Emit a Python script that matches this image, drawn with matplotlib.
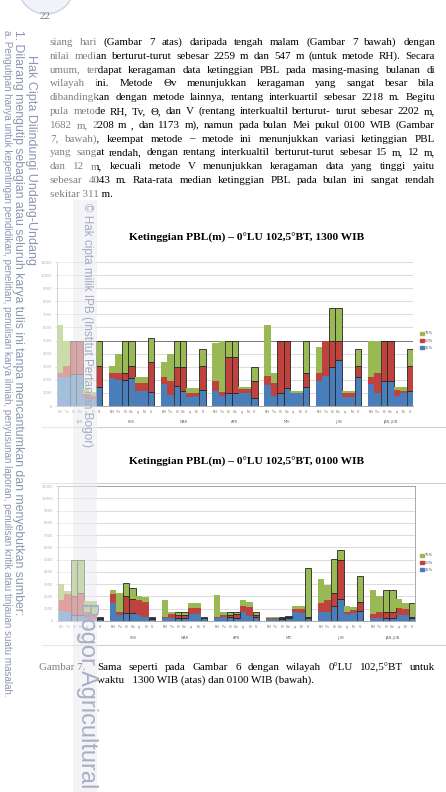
import matplotlib
matplotlib.use("Agg")
import matplotlib.pyplot as plt
from matplotlib.patches import Rectangle, Ellipse, Patch
from matplotlib.lines import Line2D

W, H = 446, 792

# ---- data ----
methods = ["RH", "Tv", "Θ", "Θv", "q", "N", "V"]
months = ["JAN", "FEB", "MAR", "APR", "MEI", "JUN", "JAN-JUN"]
pct_labels = ["75%", "50%", "25%"]
y_ticks = list(range(0, 11001, 1000))

# 1300 WIB : persentil 25 / 50 / 75 (7 bulan x 7 metode)
p25_13 = [2240, 2240, 2440, 2440, 600, 500, 1470,
          2160, 1980, 1980, 2160, 1170, 1170, 1090,
          1680, 840, 1530, 1170, 710, 780, 1220,
          1170, 800, 1020, 970, 970, 970, 590,
          1600, 780, 970, 1350, 970, 980, 1470,
          1930, 2290, 3000, 3510, 710, 720, 2240,
          1680, 970, 1930, 1930, 780, 970, 1170]
p50_13 = [2500, 3050, 5000, 5000, 900, 800, 3050,
          2500, 2500, 2500, 3050, 1730, 1730, 3380,
          2200, 1930, 3000, 3000, 970, 970, 3050,
          1930, 1100, 3720, 3720, 1270, 1270, 1930,
          2290, 1730, 5000, 5000, 980, 990, 2500,
          2500, 5000, 5000, 5000, 970, 970, 3050,
          2240, 2500, 5000, 5000, 1220, 1170, 3050]
p75_13 = [6160, 5000, 5000, 5000, 1300, 1100, 5000,
          3050, 3970, 5000, 5000, 2240, 2200, 5170,
          3380, 4000, 5000, 5000, 1350, 1350, 4350,
          4780, 5000, 5000, 5000, 1420, 1420, 2950,
          6160, 2500, 5000, 5000, 1170, 1170, 5000,
          4500, 5000, 7460, 7460, 1140, 1140, 4350,
          5000, 5000, 5000, 5000, 1470, 1470, 4350]

# 0100 WIB
p25_01 = [800, 700, 500, 500, 250, 200, 200,
          1440, 450, 680, 680, 490, 300, 200,
          250, 280, 280, 280, 600, 600, 250,
          280, 300, 300, 280, 760, 410, 350,
          200, 200, 200, 250, 730, 620, 250,
          710, 760, 1250, 1770, 570, 690, 820,
          270, 270, 270, 270, 450, 450, 250]
p50_01 = [1750, 2200, 2000, 2250, 750, 570, 250,
          2200, 760, 2040, 1770, 1710, 1570, 250,
          300, 570, 520, 520, 1030, 1030, 280,
          320, 520, 520, 570, 1220, 1170, 450,
          250, 250, 250, 300, 970, 970, 300,
          1490, 1710, 2250, 5000, 760, 900, 1550,
          570, 760, 760, 760, 1030, 950, 350]
p75_01 = [3050, 2470, 5000, 5000, 1650, 1600, 300,
          2530, 2250, 3120, 2660, 2040, 1930, 300,
          1700, 760, 700, 700, 1490, 1490, 320,
          2120, 760, 760, 760, 1710, 1550, 760,
          300, 300, 300, 400, 1250, 1250, 4350,
          3400, 2930, 5030, 5790, 1220, 1120, 3690,
          2530, 2040, 2530, 2530, 1770, 1490, 1490]

paragraph = [
    "siang hari (Gambar 7 atas) daripada tengah malam (Gambar 7 bawah) dengan",
    "nilai median berturut-turut sebesar 2259 m dan 547 m  (untuk metode RH). Secara",
    "umum, terdapat keragaman data ketinggian PBL pada masing-masing bulanan di",
    "wilayah ini. Metode Θv menunjukkan keragaman yang sangat besar bila",
    "dibandingkan dengan metode lainnya, rentang interkuartil sebesar 2218 m. Begitu",
    "pula metode RH, Tv, Θ, dan V (rentang interkualtil berturut- turut sebesar 2202 m,",
    "1682 m, 2208 m , dan 1173 m), namun pada bulan Mei pukul 0100 WIB (Gambar",
    "7, bawah), keempat metode – metode  ini menunjukkan variasi ketinggian PBL",
    "yang sangat rendah, dengan rentang interkualtil berturut-turut sebesar 15 m, 12 m,",
    "dan 12 m, kecuali metode V menunjukkan keragaman data yang tinggi yaitu",
    "sebesar 4043 m. Rata-rata median ketinggian PBL pada bulan ini sangat rendah",
    "sekitar 311 m.",
]
title_13 = "Ketinggian PBL(m) – 0°LU 102,5°BT, 1300 WIB"
title_01 = "Ketinggian PBL(m) – 0°LU 102,5°BT, 0100 WIB"
caption = ["Sama seperti pada Gambar 6 dengan wilayah 0°LU 102,5°BT untuk",
           "waktu   1300 WIB (atas) dan 0100 WIB (bawah)."]

BLUE, RED, GREEN = "#4a7ebb", "#c0423d", "#98b954"
SERIF = "Liberation Serif"
SANS = "Liberation Sans"
MARGIN = "#8c96b2"

fig = plt.figure(figsize=(W / 100, H / 100), dpi=100)
r = fig.canvas.get_renderer()


def fx(x):
    return x / W


def fy(y):
    return 1 - y / H


def justify(line, y, x0, x1, size, **kw):
    words = line.split()
    arts = [fig.text(0, 0, w, fontsize=size, family=SERIF, va="baseline", **kw) for w in words]
    widths = [a.get_window_extent(r).width for a in arts]
    gap = (x1 - x0 - sum(widths)) / max(len(words) - 1, 1)
    x = x0
    for a, w in zip(arts, widths):
        a.set_position((fx(x), fy(y)))
        x += w + gap


def vtext(s, x, y0, y1, color, **kw):
    t = fig.text(fx(x), fy(y0), s, rotation=270, ha="center", va="top",
                 fontsize=10, color=color, zorder=7, **kw)
    h = t.get_window_extent(r).height
    t.set_fontsize(10 * (y1 - y0) / h)
    return t


def chart(left, right, top, bottom, p25, p50, p75, framed, group_y, legend_y, ref_line):
    ax = fig.add_axes([fx(left), fy(bottom), (right - left) / W, (bottom - top) / H])
    xs = [g * 8 + i for g in range(len(months)) for i in range(len(methods))]
    mid = [b - a for a, b in zip(p25, p50)]
    hi = [c - b for b, c in zip(p50, p75)]
    edge = ["#262626" if (k % 7) in (2, 3, 6) else "none" for k in range(len(xs))]
    lw = [0.6 if e != "none" else 0 for e in edge]
    ax.bar(xs, p25, width=1.0, color=BLUE, edgecolor=edge, linewidth=lw, zorder=2)
    ax.bar(xs, mid, bottom=p25, width=1.0, color=RED, edgecolor=edge, linewidth=lw, zorder=2)
    ax.bar(xs, hi, bottom=p50, width=1.0, color=GREEN, edgecolor=edge, linewidth=lw, zorder=2)
    if ref_line:
        ax.axhline(5000, color="#7a7a7a", lw=0.7, zorder=1.5)
    ax.set_xlim(-0.5, xs[-1] + 0.5)
    ax.set_ylim(0, 11000)
    ax.set_yticks(y_ticks)
    ax.set_yticklabels([str(v) for v in y_ticks])
    ax.yaxis.grid(True, color="#d6d6d6", lw=0.6)
    ax.set_axisbelow(True)
    ax.set_xticks(xs)
    ax.set_xticklabels(methods * len(months))
    ax.tick_params(axis="y", labelsize=2.6, labelcolor="#666666", length=1.5, width=0.4,
                   color="#999999", pad=2)
    ax.tick_params(axis="x", labelsize=2.4, labelcolor="#666666", length=0, pad=3)
    for side in ["left", "bottom", "top", "right"]:
        ax.spines[side].set_color("#9a9a9a")
        ax.spines[side].set_linewidth(0.6)
    if not framed:
        ax.spines["top"].set_visible(False)
        ax.spines["right"].set_visible(False)
    gy = (bottom - group_y) / (bottom - top)
    for g, m in enumerate(months):
        ax.text(g * 8 + 3, gy, m, transform=ax.get_xaxis_transform(), ha="center",
                va="center", fontsize=2.6, color="#666666")
    handles = [Patch(color=GREEN), Patch(color=RED), Patch(color=BLUE)]
    ax.legend(handles, pct_labels, loc="upper left", bbox_to_anchor=(fx(419), fy(legend_y)),
              bbox_transform=fig.transFigure, fontsize=2.6, handlelength=0.9,
              handleheight=0.9, handletextpad=0.4, labelspacing=0.9, borderaxespad=0,
              frameon=False, labelcolor="#555555")
    return ax


# ---- page text ----
fig.add_artist(Ellipse((fx(46), fy(-14)), 56 / W, 56 / H, transform=fig.transFigure,
                       facecolor="#e3e8f2", edgecolor="#9aa5c0", lw=1.0, zorder=1))
fig.text(fx(40), fy(19), "22", fontsize=8, family=SERIF, va="baseline", zorder=3)

body_size = 7.9
probe = [fig.text(0, 0, ln, fontsize=body_size, family=SERIF) for ln in paragraph[:-1]]
widest = max(t.get_window_extent(r).width for t in probe)
for t in probe:
    t.remove()
body_size = min(body_size, body_size * 380 / widest)

for i, ln in enumerate(paragraph):
    yb = 45 + 13.8 * i
    if i < len(paragraph) - 1:
        justify(ln, yb, 50, 435, body_size)
    else:
        fig.text(fx(50), fy(yb), ln, fontsize=body_size, family=SERIF, va="baseline")

fig.text(fx(247), fy(238), title_13, fontsize=8.2, family=SERIF, weight="bold",
         ha="center", va="center")
fig.text(fx(247), fy(462), title_01, fontsize=8.2, family=SERIF, weight="bold",
         ha="center", va="center")

# ---- charts ----
chart(57, 413, 262, 406, p25_13, p50_13, p75_13, False, 422, 330, True)
chart(58, 415, 486, 621, p25_01, p50_01, p75_01, True, 638, 552, False)

for yl in (427, 483, 645):
    fig.add_artist(Line2D([fx(42), fx(446)], [fy(yl), fy(yl)], color="#cfcfcf", lw=0.8,
                          transform=fig.transFigure, zorder=1))

# ---- caption ----
fig.text(fx(39), fy(670), "Gambar 7.", fontsize=body_size, family=SERIF, va="baseline")
justify(caption[0], 670, 97, 435, body_size)
fig.text(fx(97), fy(683), caption[1], fontsize=body_size, family=SERIF, va="baseline")

# ---- watermark ----
fig.add_artist(Rectangle((0, 0), fx(97), 1, transform=fig.transFigure,
                         facecolor="white", alpha=0.5, lw=0, zorder=5))
fig.add_artist(Rectangle((fx(73), 0), fx(24), fy(200), transform=fig.transFigure,
                         facecolor="#c4c6d0", alpha=0.18, lw=0, zorder=5.5))
vtext("a. Pengutipan hanya untuk kepentingan pendidikan, penelitian, penulisan karya ilmiah, "
      "penyusunan laporan, penulisan kritik atau tinjauan suatu masalah.",
      7, 30, 702, MARGIN, family=SANS)
vtext("1. Dilarang mengutip sebagian atau seluruh karya tulis ini tanpa mencantumkan dan "
      "menyebutkan sumber:", 18, 30, 614, MARGIN, family=SANS)
vtext("Hak Cipta Dilindungi Undang-Undang", 31, 55, 265, MARGIN, family=SANS)
vtext("© Hak cipta milik IPB (Institut Pertanian Bogor)", 87, 203, 448, "#a3abc3", family=SANS)
vtext("Bogor Agricultural University", 87, 602, 900, "#a7aec6", family=SANS)

fig.savefig("out.png", dpi=100)
